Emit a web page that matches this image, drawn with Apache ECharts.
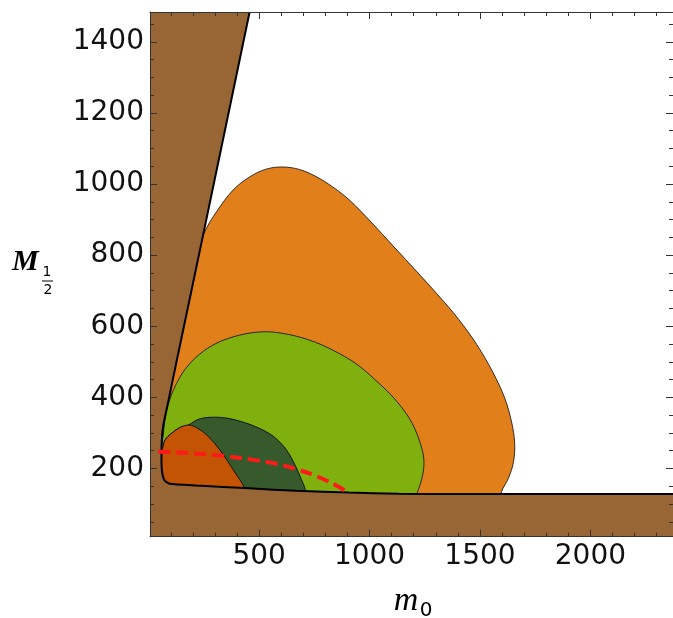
<!DOCTYPE html>
<html>
<head>
<meta charset="utf-8">
<script src="https://cdn.jsdelivr.net/npm/echarts@6/dist/echarts.min.js"></script>
<style>html,body{margin:0;padding:0;background:#fff;}#c{width:673px;height:618px;}</style>
</head>
<body>
<div id="c"></div>
<script>
// ---- axis ticks ----
const xMajor = [500, 1000, 1500, 2000];
const xMinor = [100, 200, 300, 400, 600, 700, 800, 900, 1100, 1200, 1300, 1400, 1600, 1700, 1800, 1900, 2100, 2200, 2300];
const yMajor = [200, 400, 600, 800, 1000, 1200, 1400];
const yMinor = [50, 100, 150, 250, 300, 350, 450, 500, 550, 650, 700, 750, 850, 900, 950, 1050, 1100, 1150, 1250, 1300, 1350, 1450];
const X_MIN = 6, X_MAX = 2374, Y_MIN = 8, Y_MAX = 1484;

// ---- excluded (brown) boundary: [m0, M1/2] ----
const boundary = [[457,1484],[261,900],[126,500],[86,380],[65,317],[59,270],[58,215],[62,185],[72,166],[95,157],[218,152],[457,144],[669,137],[908,132],[1133,129],[1360,128],[2374,128]];
const brownCorners = [[2374,8],[6,8],[6,1484]];

// ---- allowed regions ----
const orangeRegion = [[254,866],[307,922],[382,983],[457,1020],[532,1042],[607,1048],[683,1041],[758,1021],[833,992],[909,955],[1007,893],[1111,823],[1215,753],[1314,685],[1404,619],[1485,549],[1558,471],[1612,398],[1643,331],[1657,272],[1652,219],[1630,174],[1598,135],[1590,100],[40,100],[40,300],[150,700]];
const lightGreenRegion = [[59,270],[81,364],[126,439],[186,495],[277,542],[382,570],[502,584],[607,580],[728,561],[833,533],[938,495],[1028,448],[1119,392],[1193,327],[1239,251],[1246,205],[1231,158],[1216,131],[1210,100],[40,100],[40,260]];
const darkGreenRegion = [[59,252],[74,280],[104,299],[141,315],[179,322],[224,338],[284,344],[359,341],[434,329],[482,318],[530,304],[575,285],[624,252],[664,208],[692,168],[709,140],[712,100],[40,100],[40,245]];
const darkOrangeRegion = [[59,252],[74,280],[104,299],[141,315],[179,322],[209,317],[254,299],[299,270],[344,233],[389,190],[434,144],[440,100],[40,100],[40,245]];

// ---- red dashed curve ----
const redCurve = [[43,247],[134,245],[284,239],[434,228],[525,219],[607,209],[728,186],[818,162],[900,134],[908,130]];

function polySeries(pts, fill, stroke, lw, z, smooth) {
  return {
    type: 'custom', z: z, clip: true, silent: true, animation: false,
    xAxisIndex: 0, yAxisIndex: 0,
    data: pts,
    renderItem: function (params, api) {
      if (params.dataIndex !== 0) return null;
      return {
        type: 'polygon',
        shape: { points: pts.map(function (p) { return api.coord(p); }), smooth: smooth },
        style: { fill: fill, stroke: stroke, lineWidth: lw }
      };
    }
  };
}

const tickColor = '#333';
const labelStyle = { margin: 6, fontSize: 28, fontFamily: 'DejaVu Sans', color: '#111', formatter: function (v) { return String(v); } };
function xAx(pos, ticks, len, showLine, labels) {
  return {
    type: 'value', position: pos, min: X_MIN, max: X_MAX, z: 10,
    axisLine: { show: showLine, onZero: false, lineStyle: { color: tickColor, width: 1 } },
    axisTick: { show: true, inside: true, length: len, customValues: ticks, lineStyle: { color: tickColor, width: 1 } },
    axisLabel: labels ? Object.assign({ show: true, customValues: ticks }, labelStyle) : { show: false },
    splitLine: { show: false }
  };
}
function yAx(pos, ticks, len, showLine, labels) {
  return {
    type: 'value', position: pos, min: Y_MIN, max: Y_MAX, z: 10,
    axisLine: { show: showLine, onZero: false, lineStyle: { color: tickColor, width: 1 } },
    axisTick: { show: true, inside: true, length: len, customValues: ticks, lineStyle: { color: tickColor, width: 1 } },
    axisLabel: labels ? Object.assign({ show: true, customValues: ticks }, labelStyle) : { show: false },
    splitLine: { show: false }
  };
}

const chart = echarts.init(document.getElementById('c'), null, { renderer: 'canvas' });
chart.setOption({
  animation: false,
  backgroundColor: '#ffffff',
  grid: { left: 150, top: 12, width: 525, height: 524.7 },
  xAxis: [
    xAx('bottom', xMajor, 7, true, true),
    xAx('bottom', xMinor, 4, false, false),
    xAx('top', xMajor, 7, true, false),
    xAx('top', xMinor, 4, false, false)
  ],
  yAxis: [
    yAx('left', yMajor, 7, true, true),
    yAx('left', yMinor, 4, false, false),
    yAx('right', yMajor, 7, true, false),
    yAx('right', yMinor, 4, false, false)
  ],
  graphic: [
    { type: 'text', x: 12, y: 262, z: 20, style: { text: 'M', font: 'italic bold 30px "Liberation Serif"', fill: '#000', textAlign: 'left', textVerticalAlign: 'middle' } },
    { type: 'text', x: 47, y: 272, z: 20, style: { text: '1', font: '14px "DejaVu Sans"', fill: '#000', textAlign: 'center', textVerticalAlign: 'middle' } },
    { type: 'line', z: 20, shape: { x1: 42, y1: 281, x2: 53, y2: 281 }, style: { stroke: '#000', lineWidth: 1 } },
    { type: 'text', x: 48, y: 290, z: 20, style: { text: '2', font: '14px "DejaVu Sans"', fill: '#000', textAlign: 'center', textVerticalAlign: 'middle' } },
    { type: 'text', x: 406, y: 601, z: 20, style: { text: 'm', font: 'italic 34px "Liberation Serif"', fill: '#000', textAlign: 'center', textVerticalAlign: 'middle' } },
    { type: 'text', x: 426, y: 611, z: 20, style: { text: '0', font: '20px "DejaVu Sans"', fill: '#000', textAlign: 'center', textVerticalAlign: 'middle' } }
  ],
  series: [
    polySeries(orangeRegion, '#E17F1A', 'rgba(20,20,20,0.85)', 1, 2, 0.35),
    polySeries(lightGreenRegion, '#80B00E', 'rgba(20,20,20,0.85)', 1, 3, 0.35),
    polySeries(darkGreenRegion, '#365A2C', 'rgba(10,10,10,0.9)', 1, 4, 0.35),
    polySeries(darkOrangeRegion, '#C25404', 'rgba(10,10,10,0.9)', 1, 5, 0.35),
    polySeries(boundary.concat(brownCorners), '#976634', 'none', 0, 6, 0),
    {
      type: 'line', z: 7, data: boundary, xAxisIndex: 0, yAxisIndex: 0,
      showSymbol: false, symbol: 'none', silent: true, animation: false, smooth: 0.2,
      lineStyle: { color: '#000', width: 2 }
    },
    {
      type: 'line', z: 8, data: redCurve, xAxisIndex: 0, yAxisIndex: 0,
      showSymbol: false, symbol: 'none', silent: true, animation: false, smooth: 0.3,
      lineStyle: { color: '#FF1A1A', width: 4, type: [12, 6] }
    }
  ]
});
</script>
</body>
</html>
